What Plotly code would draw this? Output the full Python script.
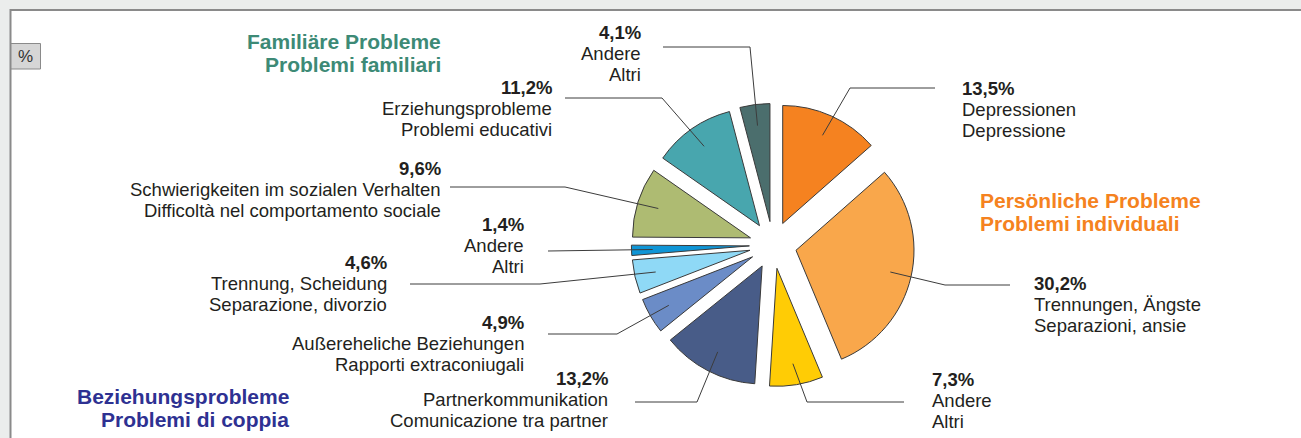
import math
import plotly.graph_objects as go

# ---- data ----
pct_labels = ["13,5%", "30,2%", "7,3%", "13,2%", "4,9%", "4,6%", "1,4%", "9,6%", "11,2%", "4,1%"]
values = [13.5, 30.2, 7.3, 13.2, 4.9, 4.6, 1.4, 9.6, 11.2, 4.1]
names_de = ["Depressionen", "Trennungen, Ängste", "Andere", "Partnerkommunikation",
            "Außereheliche Beziehungen", "Trennung, Scheidung", "Andere",
            "Schwierigkeiten im sozialen Verhalten", "Erziehungsprobleme", "Andere"]
names_it = ["Depressione", "Separazioni, ansie", "Altri", "Comunicazione tra partner",
            "Rapporti extraconiugali", "Separazione, divorzio", "Altri",
            "Difficoltà nel comportamento sociale", "Problemi educativi", "Altri"]
groups = ["P", "P", "P", "B", "B", "B", "B", "F", "F", "F"]
colors = ["#f58220", "#f9a74b", "#ffcc05", "#485c88", "#6b8cc7",
          "#8fd9f6", "#0f95d6", "#aebb72", "#48a6ae", "#4b6e6d"]
group_titles = [("Familiäre Probleme", "Problemi familiari"),
                ("Persönliche Probleme", "Problemi individuali"),
                ("Beziehungsprobleme", "Problemi di coppia")]
group_colors = ["#3d8a76", "#f58220", "#2e3192"]

# ---- layout geometry (pixels) ----
W, H = 1301, 438
CX, CY, R, PULL = 773, 245, 118, 0.2
half = R * (1 + PULL)

# label layout: (text x, anchor side, first line y, elbow point, line end)
label_layout = [
    (960, "left", 88, (850, 88), (935, 88)),
    (1032, "left", 283, (945, 285), (1010, 285)),
    (930, "left", 379, (807, 402), (904, 402)),
    (610, "right", 378, (697, 402), (635, 402)),
    (526, "right", 322, (617, 334), (548, 334)),
    (389, "right", 262, (540, 284), (410, 284)),
    (526, "right", 224, None, (548, 251)),
    (443, "right", 168, (565, 187), (450, 187)),
    (554, "right", 87, (662, 98), (565, 98)),
    (643, "right", 32, (750, 47), (663, 47)),
]
group_layout = [(443, "right", 41), (978, "left", 200), (291, "right", 396)]

fig = go.Figure()

fig.add_trace(go.Pie(
    values=values,
    labels=[f"{g}{i}" for i, g in enumerate(groups)],
    hovertext=[f"{a} / {b}" for a, b in zip(names_de, names_it)],
    sort=False, direction="clockwise", rotation=0,
    pull=[PULL] * len(values),
    marker=dict(colors=colors, line=dict(color="#3a3a3a", width=1)),
    textinfo="none", hoverinfo="text+value", showlegend=False,
    domain=dict(x=[(CX - half) / W, (CX + half) / W],
                y=[1 - (CY + half) / H, 1 - (CY - half) / H]),
))

shapes = []
# white panel and border
shapes.append(dict(type="rect", xref="x", yref="y", x0=10.5, y0=10, x1=1310, y1=450,
                   fillcolor="white", line=dict(color="#8a8a8a", width=2), layer="below"))
# % box
shapes.append(dict(type="rect", xref="x", yref="y", x0=11, y0=43.5, x1=40.5, y1=69,
                   fillcolor="#d6d6d6", line=dict(color="#8a8a8a", width=1), layer="below"))

annotations = []
annotations.append(dict(x=25.5, y=56, xref="x", yref="y", text="%", showarrow=False,
                        font=dict(size=17, color="#333333"), xanchor="center", yanchor="middle"))

total = sum(values)
cum = 0.0
LINE_GAP = 21
for i, v in enumerate(values):
    mid = (cum + v / 2) / total * 2 * math.pi
    cum += v
    k = (PULL + 0.82) * R
    ax = CX + k * math.sin(mid)
    ay = CY - k * math.cos(mid)
    tx, side, ty, elbow, end = label_layout[i]
    pts = [(ax, ay)] + ([elbow] if elbow else []) + [end]
    path = "M " + " L ".join(f"{px:.1f},{py:.1f}" for px, py in pts)
    shapes.append(dict(type="path", xref="x", yref="y", path=path,
                       line=dict(color="#3c3c3c", width=1), layer="above"))
    lines = [f"<b>{pct_labels[i]}</b>", names_de[i], names_it[i]]
    for j, t in enumerate(lines):
        annotations.append(dict(x=tx, y=ty + j * LINE_GAP, xref="x", yref="y", text=t,
                                showarrow=False, xanchor=side, yanchor="middle",
                                font=dict(size=18.5, color="#231f20")))

for (t1, t2), col, (gx, side, gy) in zip(group_titles, group_colors, group_layout):
    for j, t in enumerate([t1, t2]):
        annotations.append(dict(x=gx, y=gy + j * 23, xref="x", yref="y", text=f"<b>{t}</b>",
                                showarrow=False, xanchor=side, yanchor="middle",
                                font=dict(size=21, color=col)))

fig.update_layout(
    width=W, height=H, margin=dict(l=0, r=0, t=0, b=0),
    paper_bgcolor="#ebedec", plot_bgcolor="rgba(0,0,0,0)",
    font=dict(family="Liberation Sans, Arial, sans-serif"),
    xaxis=dict(range=[0, W], visible=False, fixedrange=True),
    yaxis=dict(range=[H, 0], visible=False, fixedrange=True),
    shapes=shapes, annotations=annotations,
)

fig.write_html("out.html", config={"displayModeBar": False},
               post_script="document.body.style.margin='0';")
